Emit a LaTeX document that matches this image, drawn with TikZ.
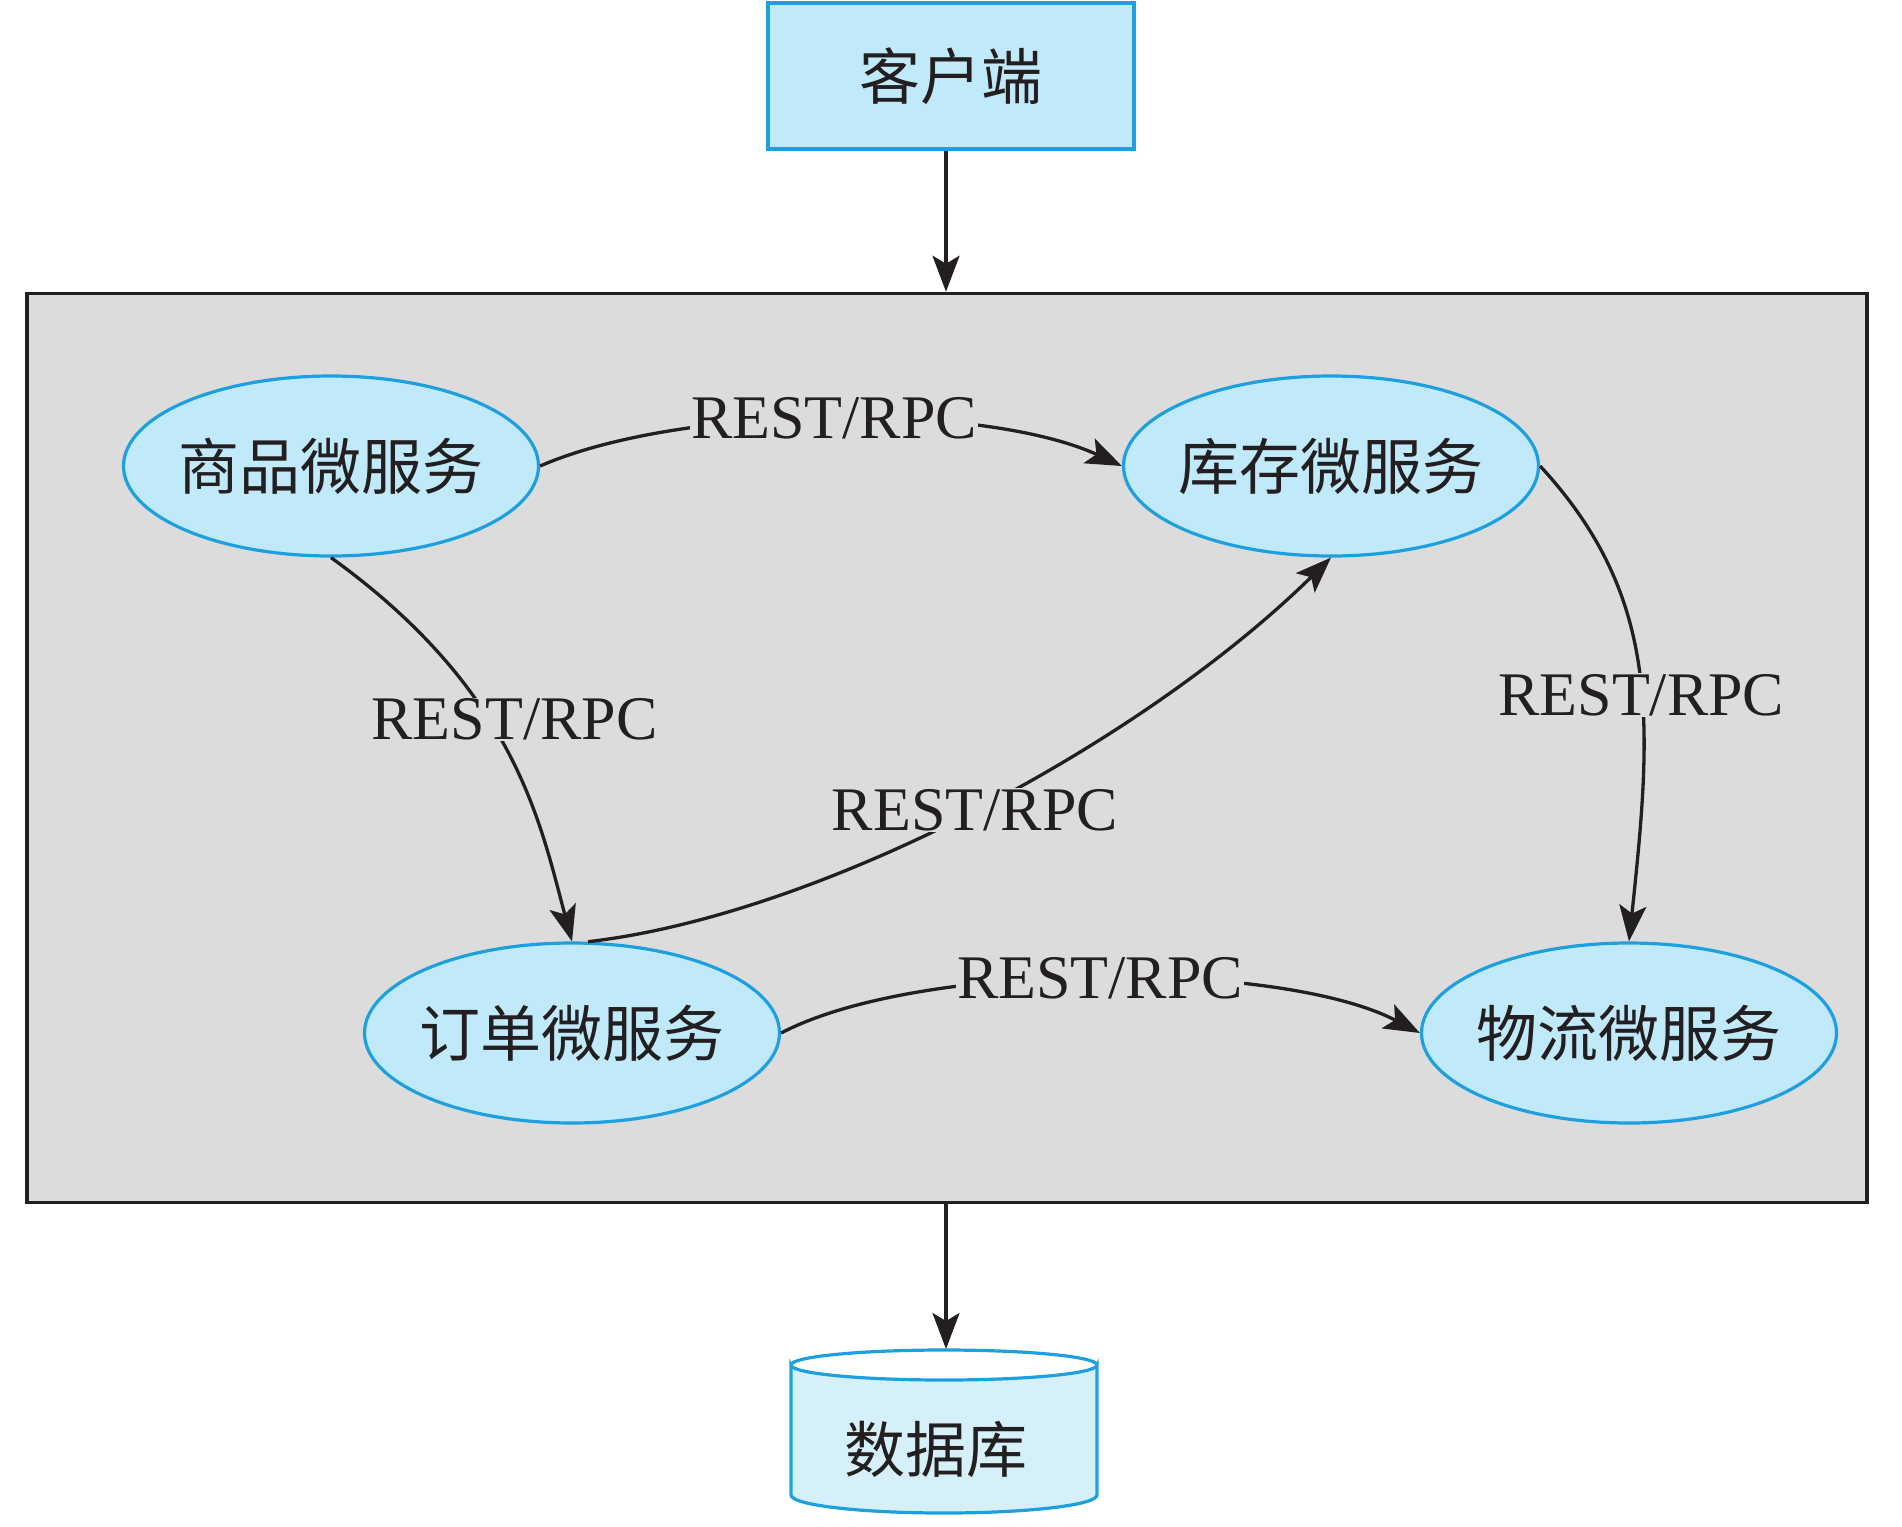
\documentclass[tikz,border=0pt]{standalone}
\usepackage{fontspec}
\setmainfont{Liberation Serif}
\newfontfamily\cjk{Noto Sans CJK SC}
\usetikzlibrary{shapes.geometric,arrows.meta}
\definecolor{ellfill}{RGB}{192,233,250}
\definecolor{ellline}{RGB}{30,160,222}
\definecolor{dbfill}{RGB}{214,240,250}
\definecolor{boxgray}{RGB}{220,220,220}
\definecolor{ink}{RGB}{35,31,32}
\tikzset{
  svc/.style={ellipse, draw=ellline, fill=ellfill, line width=3.2pt, inner sep=0pt,
    minimum width=415pt, minimum height=180pt, font=\cjk\fontsize{61}{63}\selectfont, text=ink},
  client/.style={rectangle, draw=ellline, fill=ellfill, line width=3.2pt, inner sep=0pt,
    minimum width=366pt, minimum height=146pt, font=\cjk\fontsize{61}{63}\selectfont, text=ink},
  sysbox/.style={rectangle, draw=ink, fill=boxgray, line width=3.5pt, inner sep=0pt,
    minimum width=1840pt, minimum height=909pt},
  conn/.style={draw=ink, line width=3.3pt, -{Stealth[length=36pt,width=27pt,inset=8pt]}},
  lab/.style={fill=boxgray, inner sep=1pt, text=ink, font=\fontsize{62}{64}\selectfont},
  dbtext/.style={font=\cjk\fontsize{61}{63}\selectfont, text=ink, inner sep=0pt},
  dbline/.style={draw=ellline, line width=3.2pt}
}
\newcommand{\svctext}[1]{\makebox[0pt]{#1}}
\begin{document}
\begin{tikzpicture}[x=1pt,y=-1pt]
\useasboundingbox (0,0) rectangle (1902,1526);
\node[client] (cli) at (951,76) {客户端};
\node[sysbox] (sys) at (947,748) {};
\node[svc] (sp) at (331,466) {\svctext{商品微服务}};
\node[svc] (kc) at (1331,466) {\svctext{库存微服务}};
\node[svc] (dd) at (572,1033) {\svctext{订单微服务}};
\node[svc] (wl) at (1629,1033) {\svctext{物流微服务}};
% database
\coordinate (dbtop) at (946,1349);
\filldraw[dbline, fill=dbfill]
  (791,1365) -- (791,1495) arc[start angle=180, end angle=360, x radius=153, y radius=-18]
  -- (1097,1365) arc[start angle=0, end angle=180, x radius=153, y radius=15] -- cycle;
\draw[dbline] (791,1365) arc[start angle=180, end angle=360, x radius=153, y radius=15];
\node[dbtext] (db) at (936,1449) {数据库};
% connectors
\draw[conn] (cli.south -| dbtop) -- (sys.north -| dbtop);
\draw[conn] (sys.south -| dbtop) -- (dbtop);
\draw[conn] (sp.east) .. controls (685,403) and (985,403) .. node[lab, pos=0.5] {REST/RPC} (kc.west);
\draw[conn] (sp.south) .. controls (515,690) and (540,822) .. node[lab, pos=0.41, xshift=26pt] {REST/RPC} (dd.north);
\draw[conn] (dd.80) .. controls (820,915) and (1140,745) .. node[lab, pos=0.5] {REST/RPC} (kc.south);
\draw[conn] (kc.east) .. controls (1662,598) and (1652,725) .. node[lab, pos=0.55] {REST/RPC} (wl.north);
\draw[conn] (dd.east) .. controls (920,960) and (1280,960) .. node[lab, pos=0.5] {REST/RPC} (wl.west);
\end{tikzpicture}
\end{document}
